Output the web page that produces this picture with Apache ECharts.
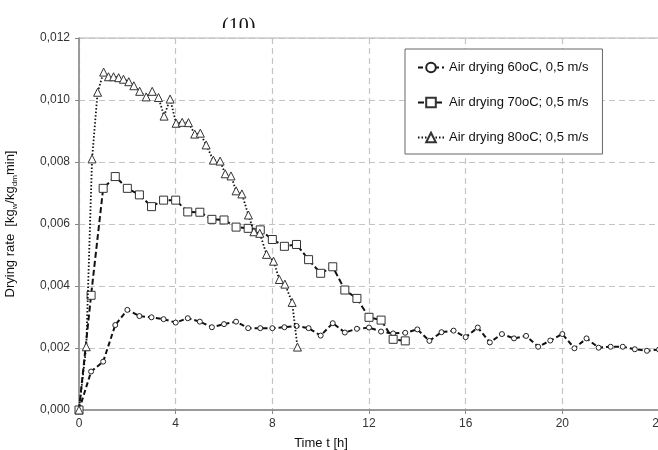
<!DOCTYPE html>
<html>
<head>
<meta charset="utf-8">
<script src="https://cdn.jsdelivr.net/npm/echarts@6/dist/echarts.min.js"></script>
<style>
  html, body { margin: 0; padding: 0; background: #fff; }
  #chart { width: 658px; height: 450px; }
</style>
</head>
<body>
<div id="chart"></div>
<script>
// Drying rate curves (kg water per kg dry matter per minute) versus drying time in hours
const seriesNames = [
  'Air drying 60oC, 0,5 m/s',
  'Air drying 70oC; 0,5 m/s',
  'Air drying 80oC; 0,5 m/s'
];

const time60 = [0, 0.5, 1, 1.5, 2, 2.5, 3, 3.5, 4, 4.5, 5, 5.5, 6, 6.5, 7, 7.5, 8, 8.5, 9, 9.5,
  10, 10.5, 11, 11.5, 12, 12.5, 13, 13.5, 14, 14.5, 15, 15.5, 16, 16.5, 17, 17.5, 18, 18.5, 19, 19.5,
  20, 20.5, 21, 21.5, 22, 22.5, 23, 23.5, 24];
const rate60 = [0, 0.00124, 0.00156, 0.00274, 0.00323, 0.00303, 0.00299, 0.00293, 0.00282, 0.00296,
  0.00285, 0.00267, 0.00277, 0.00285, 0.00264, 0.00264, 0.00264, 0.00267, 0.00271, 0.00264,
  0.00240, 0.00280, 0.00250, 0.00262, 0.00266, 0.00253, 0.00247, 0.00249, 0.00260, 0.00223,
  0.00251, 0.00256, 0.00235, 0.00266, 0.00218, 0.00245, 0.00231, 0.00239, 0.00204, 0.00224,
  0.00245, 0.00199, 0.00231, 0.00201, 0.00204, 0.00204, 0.00196, 0.00191, 0.00195];

const time70 = [0, 0.5, 1, 1.5, 2, 2.5, 3, 3.5, 4, 4.5, 5, 5.5, 6, 6.5, 7, 7.5, 8, 8.5, 9, 9.5,
  10, 10.5, 11, 11.5, 12, 12.5, 13, 13.5];
const rate70 = [0, 0.00370, 0.00715, 0.00753, 0.00715, 0.00694, 0.00656, 0.00677, 0.00677, 0.00639,
  0.00638, 0.00615, 0.00613, 0.00590, 0.00586, 0.00581, 0.00550, 0.00528, 0.00534, 0.00485,
  0.00441, 0.00462, 0.00387, 0.00360, 0.00299, 0.00290, 0.00228, 0.00223];

const time80 = [0, 0.3, 0.54, 0.77, 1.02, 1.22, 1.43, 1.64, 1.84, 2.06, 2.27, 2.51, 2.78, 3.03,
  3.29, 3.52, 3.77, 4.02, 4.27, 4.53, 4.79, 5.02, 5.26, 5.56, 5.84, 6.05, 6.29, 6.5, 6.74, 7.01,
  7.24, 7.48, 7.76, 8.05, 8.29, 8.52, 8.82, 9.04];
const rate80 = [0, 0.00204, 0.00810, 0.01025, 0.01090, 0.01075, 0.01075, 0.01072, 0.01067, 0.01059,
  0.01046, 0.01028, 0.01010, 0.01028, 0.01008, 0.00948, 0.01003, 0.00925, 0.00928, 0.00927,
  0.00890, 0.00893, 0.00855, 0.00806, 0.00803, 0.00762, 0.00755, 0.00707, 0.00697, 0.00629,
  0.00575, 0.00570, 0.00502, 0.00480, 0.00421, 0.00406, 0.00347, 0.00203];

const xTicks = { min: 0, max: 24, step: 4 };
const yTicks = { min: 0, max: 0.012, step: 0.002 };

const pairs = (t, v) => t.map((x, i) => [x, v[i]]);

const chart = echarts.init(document.getElementById('chart'), null, { renderer: 'canvas' });

const font = 'Liberation Sans, Arial, sans-serif';

chart.setOption({
  animation: false,
  backgroundColor: '#fff',
  textStyle: { fontFamily: font },
  grid: {
    left: 79, top: 38, right: -1, bottom: 40,
    containLabel: false,
    outerBoundsMode: 'none',
    show: true, borderColor: '#b0b0b0', borderWidth: 1, backgroundColor: 'transparent'
  },
  legend: {
    left: 405, top: 49,
    orient: 'vertical',
    backgroundColor: '#fff',
    borderColor: '#666', borderWidth: 1, borderRadius: 0,
    padding: [12, 14, 10, 12],
    itemGap: 22, itemWidth: 26, itemHeight: 12,
    textStyle: { fontFamily: font, fontSize: 13, color: '#111' },
    data: seriesNames
  },
  xAxis: {
    type: 'value',
    min: xTicks.min, max: xTicks.max, interval: xTicks.step,
    name: 'Time t [h]',
    nameLocation: 'middle', nameGap: 27,
    nameTextStyle: { fontSize: 13, color: '#111', fontFamily: font, padding: [0, 96, 0, 0] },
    axisLine: { show: true, lineStyle: { color: '#888', width: 1.5 } },
    axisTick: { show: true, length: 4, lineStyle: { color: '#888' } },
    axisLabel: { fontSize: 12, color: '#333', margin: 8 },
    splitLine: { show: true, lineStyle: { color: '#c4c4c4', type: [6, 4], width: 1.2 } }
  },
  yAxis: {
    type: 'value',
    min: yTicks.min, max: yTicks.max, interval: yTicks.step,
    name: '{n|Drying rate  [kg}{s|w}{n|/kg}{s|dm}{n|min]}',
    nameLocation: 'middle', nameGap: 62,
    nameTextStyle: {
      fontFamily: font,
      rich: {
        n: { fontSize: 13, color: '#111', fontFamily: font, verticalAlign: 'bottom', lineHeight: 15 },
        s: { fontSize: 8, color: '#111', fontFamily: font, verticalAlign: 'bottom', lineHeight: 15, padding: [0, 0, -2, 0] }
      }
    },
    axisLine: { show: true, lineStyle: { color: '#888', width: 1.5 } },
    axisTick: { show: true, length: 4, lineStyle: { color: '#888' } },
    axisLabel: {
      fontSize: 12, color: '#333', margin: 9,
      formatter: v => v.toFixed(3).replace('.', ',')
    },
    splitLine: { show: true, lineStyle: { color: '#c4c4c4', type: [6, 4], width: 1.2 } }
  },
  graphic: [
    {
      type: 'text', left: 222, top: 17, z: 1,
      style: { text: '(10)', font: '20px Liberation Serif, Times New Roman, serif', fill: '#111' }
    },
    {
      type: 'rect', left: 200, top: 28, z: 2,
      shape: { width: 80, height: 9 },
      style: { fill: '#fff' }
    }
  ],
  series: [
    {
      name: seriesNames[0], type: 'line',
      data: pairs(time60, rate60),
      symbol: 'circle', symbolSize: 5,
      lineStyle: { color: '#111', width: 2, type: [5, 3] },
      itemStyle: { color: '#fff', borderColor: '#222', borderWidth: 1 },
      z: 3
    },
    {
      name: seriesNames[1], type: 'line',
      data: pairs(time70, rate70),
      symbol: 'rect', symbolSize: 8,
      lineStyle: { color: '#111', width: 2, type: [6, 3] },
      itemStyle: { color: '#fff', borderColor: '#333', borderWidth: 1 },
      z: 4
    },
    {
      name: seriesNames[2], type: 'line',
      data: pairs(time80, rate80),
      symbol: 'triangle', symbolSize: 8,
      lineStyle: { color: '#111', width: 1.8, type: [1.5, 2] },
      itemStyle: { color: '#fff', borderColor: '#333', borderWidth: 1 },
      z: 5
    }
  ]
});
</script>
</body>
</html>
